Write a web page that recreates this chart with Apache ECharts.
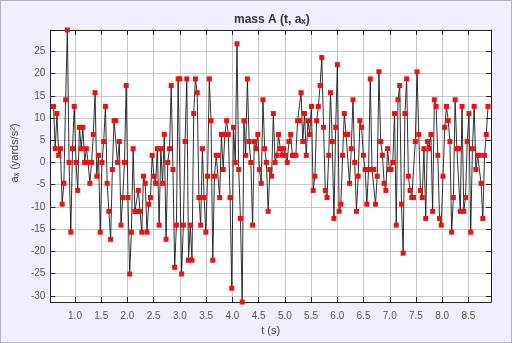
<!DOCTYPE html>
<html>
<head>
<meta charset="utf-8">
<script src="https://cdn.jsdelivr.net/npm/echarts@6.0.0/dist/echarts.min.js"></script>
<style>
  html, body { margin: 0; padding: 0; background: #efeffd; }
  #chart { width: 512px; height: 343px; box-sizing: border-box; border: 1px solid #b4b4c4; }
</style>
</head>
<body>
<div id="chart"></div>
<script>
// Sampled acceleration a_x (yards/s^2) of mass A, in time order.
const accelPart1 = [12.6, 3.1, 11.0, 1.6, 3.1, -9.4, -4.7, 14.1, 29.8, 0, -15.7, 3.1, 12.6, 0, -6.3, 7.9, 3.1, 7.9, 0, 3.1, 0, -4.7, 0, 6.3, 15.7, -3.1, 1.6, -15.7, 0, 4.7, 12.6, -4.7, -11.0,
  -17.3, -1.6, 9.4, 9.4, 0, 4.7, -14.1, -7.9, 0, 17.3, -7.9, -25.1, -15.7, 3.1, -11.0, -11.0, -6.3, -11.0, -15.7, -3.1, -4.7, -15.7, -9.4, -7.9, 1.6, -3.1, -4.7, 3.1, -14.1, 3.1, -4.7, 6.3, -17.3, 0];
const accelPart2 = [3.1, 17.3, -1.6, -23.6, -14.1, 18.8, 18.8, -25.1, -14.1, 4.7, 18.8, -22.0, -14.1, -22.0, 11.0, 18.8, 15.7, -7.9, -14.1, 3.1, -7.9, -15.7, -3.1, 18.8, 9.4, -22.0, -3.1, 1.6, 1.6, -7.9, 6.3, -1.6, 6.3,
  9.4, 6.3, -7.9, -28.3, 7.9, 0, 26.7, -1.6, -12.6, -31.4, 9.4, 1.6, 18.8, 4.7, 0, -14.1, 4.7, 3.1, 6.3, -1.6, -4.7, 14.1, 3.1, 0, -11.0, -1.6, -3.1, 11.0, 0, 1.6, 6.3, 3.1, 1.6, 3.1, 1.6, 0];
const accelPart3 = [4.7, 6.3, 1.6, 1.6, 1.6, 9.4, 9.4, 15.7, 4.7, 11.0, 1.6, 9.4, 6.3, 12.6, -6.3, -3.1, 9.4, 12.6, 17.3, 23.6, 7.9, -6.3, -7.9, 1.6, 15.7, 4.7, -12.6, 7.9, 22.0, -11.0, -9.4, 1.6, 11.0,
  6.3, 6.3, -4.7, 3.1, 14.1, 0, -11.0, -3.1, 9.4, 7.9, 1.6, -1.6, -9.4, -1.6, 18.8, -1.6, -1.6, -9.4, -3.1, 20.4, 4.7, 1.6, -4.7, -6.3, 3.1, -1.6, -1.6, 0, 11.0, -14.1, 14.1, 17.3, -9.4, -20.4];
const accelPart4 = [11.0, 18.8, -3.1, -6.3, -7.9, -7.9, 4.7, 20.4, 6.3, -6.3, -7.9, 3.1, -12.6, 4.7, 3.1, 6.3, -11.0, 14.1, 12.6, 1.6, -12.6, -14.1, -3.1, 7.9, 12.6, 9.4, 4.7, -15.7, -7.9, 14.1, 3.1, 3.1, -11.0, 12.6, -11.0, -7.9, 4.7, 11.0, -15.7, 3.1, 12.6, -1.6, 1.6, 1.6, -4.7, -12.6, 1.6, 6.3, 12.6];

// Sampling: first sample time and fixed step (s).
const tStart = 0.59;
const tStep = 0.033;

// Axis ranges and tick labels.
const tRange = [0.53, 8.93];
const tTicks = [1.0, 1.5, 2.0, 2.5, 3.0, 3.5, 4.0, 4.5, 5.0, 5.5, 6.0, 6.5, 7.0, 7.5, 8.0, 8.5];
const aTicks = [-30, -25, -20, -15, -10, -5, 0, 5, 10, 15, 20, 25];

const accel = [].concat(accelPart1, accelPart2, accelPart3, accelPart4);
const samples = accel.map((a, i) => [+(tStart + i * tStep).toFixed(4), a]);
const aMin = Math.min.apply(null, accel);
const aMax = Math.max.apply(null, accel);

const FONT = '"Liberation Sans", "DejaVu Sans", Arial, sans-serif';
const frame = { show: true, onZero: false, lineStyle: { color: '#222', width: 1 } };
const innerTick = (values) => ({ show: true, inside: true, length: 5, customValues: values, lineStyle: { color: '#222' } });
const gridLine = { show: true, lineStyle: { color: '#c8c8c8', width: 1 } };

const chart = echarts.init(document.getElementById('chart'), null, { renderer: 'canvas' });
chart.setOption({
  animation: false,
  backgroundColor: '#efeffd',
  title: {
    text: 'mass A (t, aₓ)',
    left: 228,
    top: 8,
    textStyle: { fontFamily: FONT, fontSize: 12, fontWeight: 'bold', color: '#333' }
  },
  grid: { left: 44, top: 29, width: 446, height: 272, show: true, backgroundColor: '#ffffff', borderWidth: 0 },
  xAxis: [
    {
      type: 'value', position: 'bottom', min: tRange[0], max: tRange[1],
      axisLine: frame, axisTick: innerTick(tTicks),
      axisLabel: { customValues: tTicks, formatter: (v) => v.toFixed(1), color: '#555', fontSize: 10, fontFamily: FONT, margin: 9 },
      splitLine: gridLine,
      name: 't (s)', nameLocation: 'middle', nameGap: 21,
      nameTextStyle: { color: '#444', fontSize: 11, fontFamily: FONT }
    },
    {
      type: 'value', position: 'top', min: tRange[0], max: tRange[1],
      axisLine: frame, axisTick: innerTick(tTicks), axisLabel: { show: false }, splitLine: { show: false }
    }
  ],
  yAxis: [
    {
      type: 'value', position: 'left', min: aMin, max: aMax,
      axisLine: frame, axisTick: innerTick(aTicks),
      axisLabel: { customValues: aTicks, color: '#555', fontSize: 10, fontFamily: FONT, margin: 5 },
      splitLine: gridLine,
      name: 'aₓ (yards/s²)', nameLocation: 'middle', nameGap: 24, nameRotate: 90,
      nameTextStyle: { color: '#444', fontSize: 11, fontFamily: FONT, padding: [0, 0, 0, 26] }
    },
    {
      type: 'value', position: 'right', min: aMin, max: aMax,
      axisLine: frame, axisTick: innerTick(aTicks), axisLabel: { show: false }, splitLine: { show: false }
    }
  ],
  series: [{
    type: 'line',
    data: samples,
    xAxisIndex: 0,
    yAxisIndex: 0,
    symbol: 'rect',
    symbolSize: 5,
    showSymbol: true,
    showAllSymbol: true,
    sampling: 'none',
    clip: false,
    lineStyle: { color: '#1a1a1a', width: 0.9 },
    itemStyle: { color: '#ee1111' },
    emphasis: { disabled: true }
  }]
});
</script>
</body>
</html>
